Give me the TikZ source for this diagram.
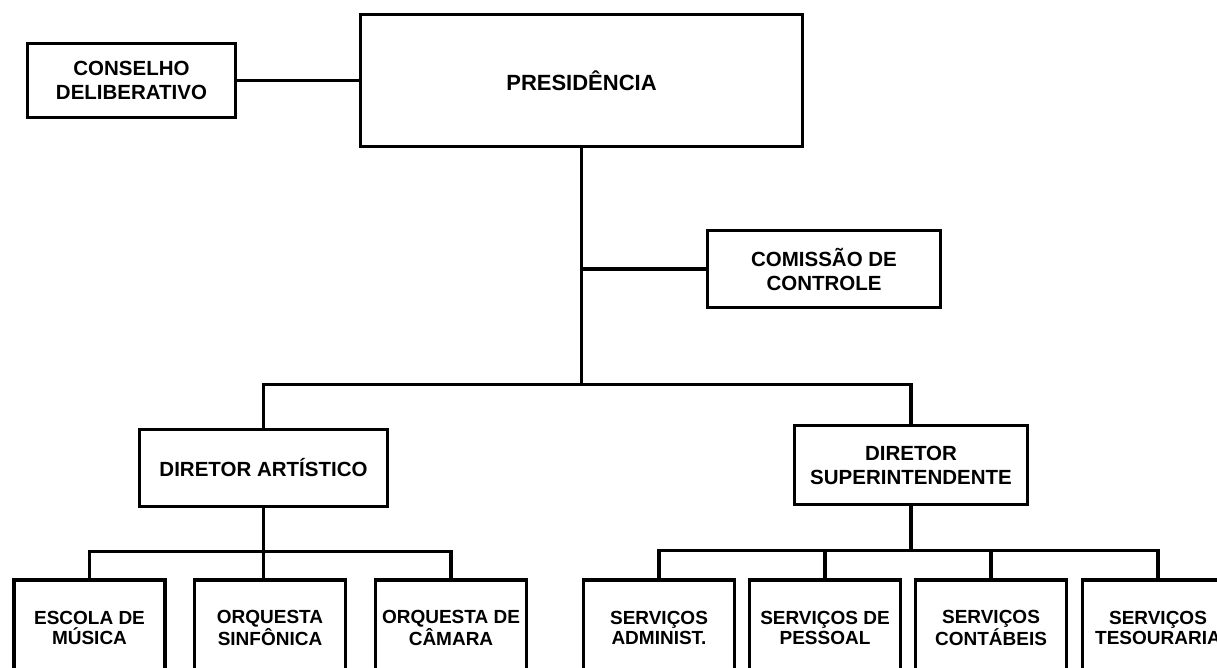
\documentclass[tikz,border=0pt]{standalone}
\usepackage{fontspec}
\setmainfont{Liberation Sans}
\usetikzlibrary{positioning}

\begin{document}
\begin{tikzpicture}[x=1pt,y=-1pt,on grid,line width=3.5pt,
    unit/.style={draw,rectangle,inner sep=0pt,align=center,
        font=\bfseries\fontsize{20.5}{24}\selectfont},
    sub/.style={unit,minimum width=151pt,minimum height=96pt,
        font=\bfseries\fontsize{19}{20}\selectfont}]
    \useasboundingbox (0,0) rectangle (1217,667);
    \clip (0,0) rectangle (1217,667);
    % top
    \node[unit,minimum width=442pt,minimum height=132pt,
        font=\bfseries\fontsize{22}{26}\selectfont] (pres) at (581.5,80.5) {PRESIDÊNCIA};
    \node[unit,minimum width=208pt,minimum height=74pt] (cons) [left=450pt of pres] {CONSELHO\\DELIBERATIVO};
    \node[unit,minimum width=233pt,minimum height=77pt] (comi) [below right=188.5pt and 242.5pt of pres] {COMISSÃO DE\\CONTROLE};
    % directors
    \node[unit,minimum width=248pt,minimum height=77pt] (art) [below left=387.5pt and 318pt of pres] {DIRETOR ARTÍSTICO};
    \node[unit,minimum width=233pt,minimum height=79pt] (sup) [below right=384.5pt and 329.5pt of pres] {DIRETOR\\SUPERINTENDENTE};
    % artistic side
    \node[sub] (esc) [below left=160pt and 174pt of art] {ESCOLA DE\\MÚSICA};
    \node[sub] (sinf) [right=180.5pt of esc] {ORQUESTA\\SINFÔNICA};
    \node[sub] (cam) [right=181pt of sinf] {ORQUESTA DE\\CÂMARA};
    % services
    \node[sub] (adm) [below left=163pt and 252pt of sup] {SERVIÇOS\\ADMINIST.};
    \node[sub] (pes) [right=166pt of adm] {SERVIÇOS DE\\PESSOAL};
    \node[sub] (cont) [right=166pt of pes] {SERVIÇOS\\CONTÁBEIS};
    \node[sub] (tes) [right=167pt of cont] {SERVIÇOS\\TESOURARIA};

    \path (pres.south) ++(0,236) coordinate (jct);
    \path (art.south) ++(0,43) coordinate (artjct);
    \path (sup.south) ++(0,44) coordinate (supjct);

    \draw (cons.east) -- (cons.east -| pres.west);
    \draw (pres.south) -- (jct);
    \draw (comi.west) -- (comi.west -| pres.south);
    \draw (art.north) |- (jct) -| (sup.north);
    \draw (art.south) -- (artjct);
    \draw (esc.north) |- (artjct) -| (cam.north);
    \draw (artjct) -- (artjct |- sinf.north);
    \draw (sup.south) -- (supjct);
    \draw (adm.north) |- (supjct) -| (tes.north);
    \draw (pes.north) -- (pes.north |- supjct);
    \draw (cont.north) -- (cont.north |- supjct);
\end{tikzpicture}
\end{document}
